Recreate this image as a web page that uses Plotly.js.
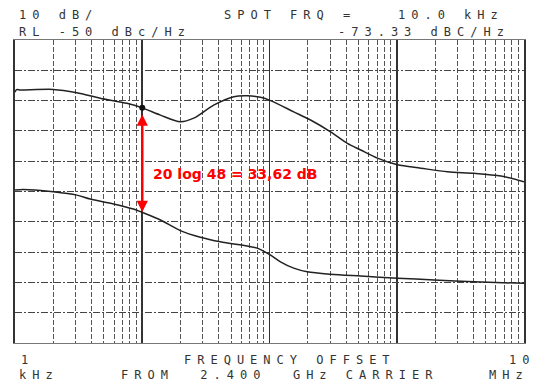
<!DOCTYPE html>
<html>
<head>
<meta charset="utf-8">
<script src="https://cdn.plot.ly/plotly-3.0.1.min.js"></script>
<style>
  html, body { margin: 0; padding: 0; background: #fff; }
  #chart { width: 536px; height: 383px; }
  .annotation:not([data-index="0"]):not([data-index="1"]) text { letter-spacing: 6.0px; }
</style>
</head>
<body>
<div id="chart"></div>
<script>
// ---- data (frequency offset in kHz, level in dBc/Hz) ----
const upperFreq = [1.0, 1.03, 1.1, 2.0, 3.06, 4.67, 7.58, 10.0, 13.9, 19.9, 25.4, 36.4, 52.4, 66.7, 85.0, 102, 155, 210, 302, 409, 521, 705, 1013, 1546, 2506, 4060, 6590, 10000];
const upperLevel = [-67.2, -66.4, -66.5, -66.3, -67.4, -69.2, -70.9, -72.4, -74.8, -77.0, -75.8, -71.5, -68.7, -68.4, -68.9, -70.0, -73.7, -76.4, -80.3, -84.1, -86.3, -89.0, -91.2, -92.3, -93.5, -94.0, -94.9, -96.8];
const lowerFreq = [1.0, 1.16, 2.0, 3.06, 3.90, 5.94, 8.54, 10.0, 13.9, 19.9, 28.6, 41.1, 66.7, 80.0, 102, 122, 155, 198, 302, 521, 1013, 1968, 4060, 10000];
const lowerLevel = [-99.5, -99.3, -100.1, -101.2, -102.5, -104.1, -105.8, -106.9, -109.4, -112.9, -115.1, -116.6, -118.0, -118.7, -121.0, -123.2, -125.3, -126.5, -127.3, -127.9, -128.6, -129.2, -129.8, -130.3];
const spotFreq = [10.0];
const spotLevel = [-72.4];
const arrowTop = -74.1;
const arrowBottom = -106.8;
const noteText = "20 log 48 = 33,62 dB";
const noteFreq = 11.77;
const noteLevel = -94.2;
const headerLines = ["10 dB/", "RL -50 dBc/Hz", "SPOT FRQ =", "10.0 kHz", "-73.33 dBC/Hz"];
const footerLines = ["1", "FREQUENCY OFFSET", "10", "kHz", "FROM  2.400  GHz CARRIER", "MHz"];

// ---- layout helpers (pixel -> paper) ----
const L = 15, R = 524, T = 40, B = 343;
const px = x => (x - L) / (R - L);
const py = y => (B - y) / (B - T);
const plotFont = {family: "DejaVu Sans Mono, monospace", size: 12, color: "#333"};
function txt(text, x, y) {
  return {text: text, xref: "paper", yref: "paper", x: px(x), y: py(y),
          xanchor: "left", yanchor: "middle", align: "left", showarrow: false, font: plotFont};
}

const traces = [
  {x: upperFreq, y: upperLevel, type: "scatter", mode: "lines",
   line: {color: "#222", width: 1.5, shape: "spline", smoothing: 0.8}, hoverinfo: "skip"},
  {x: lowerFreq, y: lowerLevel, type: "scatter", mode: "lines",
   line: {color: "#222", width: 1.5, shape: "spline", smoothing: 0.8}, hoverinfo: "skip"},
  {x: spotFreq, y: spotLevel, type: "scatter", mode: "markers",
   marker: {color: "#111", size: 6}, hoverinfo: "skip"}
];

const annotations = [
  {x: Math.log10(spotFreq[0]), y: arrowBottom, ax: Math.log10(spotFreq[0]), ay: arrowTop,
   xref: "x", yref: "y", axref: "x", ayref: "y", text: "", showarrow: true,
   arrowside: "end+start", arrowhead: 2, startarrowhead: 2, arrowsize: 0.9, startarrowsize: 0.9,
   arrowwidth: 2.5, arrowcolor: "#ff0000", standoff: 0, startstandoff: 0},
  {x: Math.log10(noteFreq), y: noteLevel, xref: "x", yref: "y", text: noteText, showarrow: false,
   xanchor: "left", yanchor: "middle",
   font: {family: "DejaVu Sans", size: 14, color: "#ff0000", weight: "bold"}},
  txt(headerLines[0], 17, 15),
  txt(headerLines[1], 17, 32),
  txt(headerLines[2], 222, 15),
  txt(headerLines[3], 396, 15),
  txt(headerLines[4], 336, 32),
  txt(footerLines[0], 19, 360),
  txt(footerLines[1], 182, 360),
  txt(footerLines[2], 507, 360),
  txt(footerLines[3], 17, 375),
  txt(footerLines[4], 119, 375),
  txt(footerLines[5], 487, 375)
];

const layout = {
  width: 536, height: 383,
  margin: {l: L, r: 536 - R, t: T, b: 383 - B, pad: 0},
  paper_bgcolor: "#fff", plot_bgcolor: "#fff",
  showlegend: false,
  xaxis: {type: "log", range: [0, 4], dtick: 1, showticklabels: false, ticks: "",
          showgrid: true, gridcolor: "#333", gridwidth: 1.6,
          minor: {dtick: "D1", showgrid: true, gridcolor: "#555", gridwidth: 1, griddash: "5px,2px", ticks: ""},
          showline: true, mirror: true, linecolor: "#777", linewidth: 1, zeroline: false, fixedrange: true},
  yaxis: {range: [-150, -50], dtick: 10, showticklabels: false, ticks: "",
          showgrid: true, gridcolor: "#444", gridwidth: 1, griddash: "7px,2px,2px,2px",
          showline: true, mirror: true, linecolor: "#333", linewidth: 2, zeroline: false, fixedrange: true},
  annotations: annotations
};

Plotly.newPlot("chart", traces, layout, {staticPlot: true, displayModeBar: false});
</script>
</body>
</html>
